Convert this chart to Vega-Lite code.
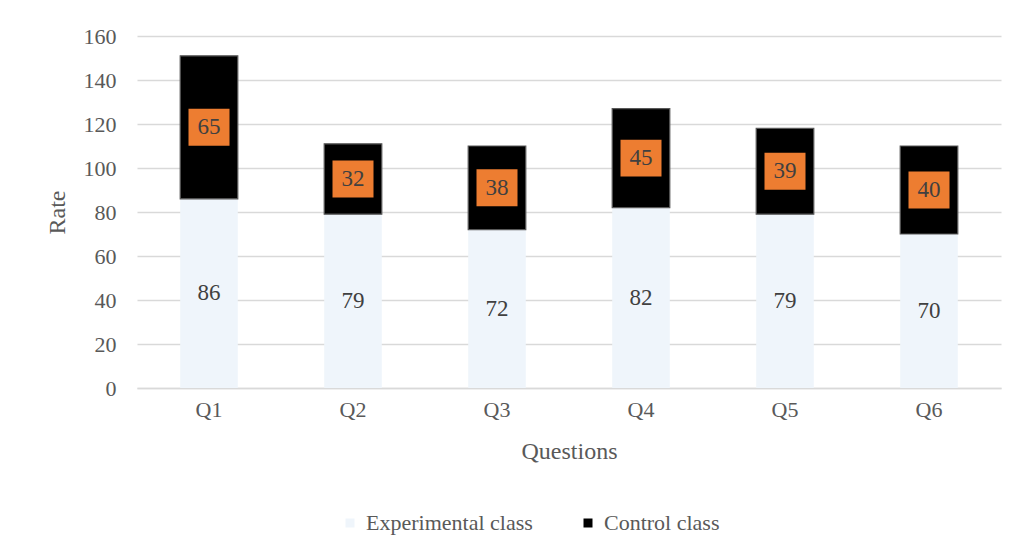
{
  "$schema": "https://vega.github.io/schema/vega-lite/v6.json",
  "width": 864,
  "height": 352,
  "autosize": {"type": "none"},
  "padding": {"left": 137, "top": 36, "right": 16, "bottom": 165},
  "background": "white",
  "data": {
    "values": [
      {"question": "Q1", "class": "Experimental class", "value": 86},
      {"question": "Q1", "class": "Control class", "value": 65},
      {"question": "Q2", "class": "Experimental class", "value": 79},
      {"question": "Q2", "class": "Control class", "value": 32},
      {"question": "Q3", "class": "Experimental class", "value": 72},
      {"question": "Q3", "class": "Control class", "value": 38},
      {"question": "Q4", "class": "Experimental class", "value": 82},
      {"question": "Q4", "class": "Control class", "value": 45},
      {"question": "Q5", "class": "Experimental class", "value": 79},
      {"question": "Q5", "class": "Control class", "value": 39},
      {"question": "Q6", "class": "Experimental class", "value": 70},
      {"question": "Q6", "class": "Control class", "value": 40}
    ]
  },
  "transform": [
    {"stack": "value", "groupby": ["question"], "sort": [{"field": "class", "order": "descending"}], "as": ["y0", "y1"]},
    {"calculate": "(datum.y0 + datum.y1) / 2", "as": "ymid"}
  ],
  "encoding": {
    "x": {
      "field": "question", "type": "nominal",
      "scale": {"paddingInner": 0.6, "paddingOuter": 0.3},
      "axis": {
        "title": "Questions", "labelAngle": 0, "ticks": false,
        "domainColor": "#d9d9d9", "domainWidth": 1.5,
        "labelPadding": 11, "titlePadding": 19,
        "labelFontSize": 22, "titleFontSize": 24,
        "labelColor": "#595959", "titleColor": "#595959",
        "labelFont": "Liberation Serif", "titleFont": "Liberation Serif", "titleFontWeight": "normal"
      }
    }
  },
  "layer": [
    {
      "mark": {"type": "bar", "strokeWidth": 1.2},
      "encoding": {
        "y": {
          "field": "y0", "type": "quantitative",
          "scale": {"domain": [0, 160]},
          "axis": {
            "title": "Rate", "values": [0, 20, 40, 60, 80, 100, 120, 140, 160],
            "domain": false, "ticks": false, "grid": true, "gridColor": "#d9d9d9", "gridWidth": 1.3,
            "labelPadding": 21, "titlePadding": 14,
            "labelFontSize": 22, "titleFontSize": 24,
            "labelColor": "#595959", "titleColor": "#595959",
            "labelFont": "Liberation Serif", "titleFont": "Liberation Serif", "titleFontWeight": "normal"
          }
        },
        "y2": {"field": "y1"},
        "stroke": {"condition": {"test": "datum['class'] === 'Control class'", "value": "#595959"}, "value": null},
        "color": {
          "field": "class", "type": "nominal",
          "scale": {"domain": ["Experimental class", "Control class"], "range": ["#eff5fb", "#000000"]},
          "legend": {
            "title": null, "orient": "none", "direction": "horizontal",
            "legendX": 202, "legendY": 476,
            "symbolType": "square", "symbolSize": 81, "symbolStrokeWidth": 0,
            "labelFontSize": 22, "labelFont": "Liberation Serif", "labelColor": "#595959",
            "labelLimit": 400, "columnPadding": 44, "labelOffset": 5
          }
        }
      }
    },
    {
      "transform": [{"filter": "datum['class'] === 'Control class'"}],
      "mark": {"type": "point", "filled": true, "opacity": 1, "color": "#ED7D31", "size": 1681, "shape": "M-1,-0.9H1V0.9H-1Z", "strokeWidth": 0},
      "encoding": {
        "y": {"field": "ymid", "type": "quantitative"}
      }
    },
    {
      "mark": {"type": "text", "font": "Liberation Serif", "fontSize": 23, "color": "#404040", "baseline": "middle"},
      "encoding": {
        "y": {"field": "ymid", "type": "quantitative"},
        "text": {"field": "value", "type": "quantitative"}
      }
    }
  ],
  "config": {
    "view": {"stroke": null}
  }
}
